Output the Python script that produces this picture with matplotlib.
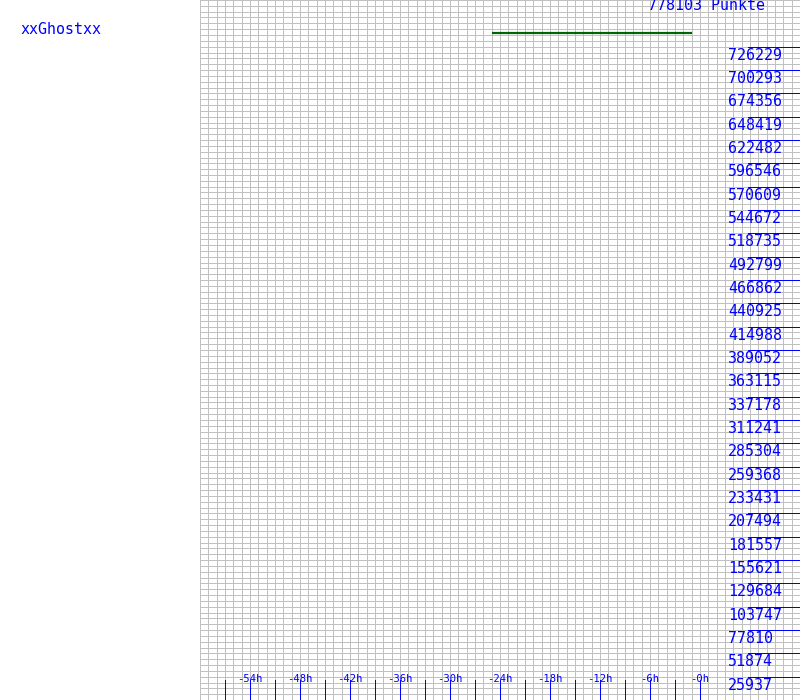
import numpy as np
import matplotlib
matplotlib.use("Agg")
import matplotlib.pyplot as plt
from matplotlib.transforms import offset_copy

# player / score
player_name = "xxGhostxx"
total_points = 778103
title_text = "778103 Punkte"

# score history (hours relative to now, points)
hist_hours = [-25, -24, -23, -22, -21, -20, -19, -18, -17, -16, -15, -14, -13,
              -12, -11, -10, -9, -8, -7, -6, -5, -4, -3, -2, -1]
hist_points = [741800] * 25

# y axis labels
y_tick_values = [25937, 51874, 77810, 103747, 129684, 155621, 181557, 207494,
                 233431, 259368, 285304, 311241, 337178, 363115, 389052, 414988,
                 440925, 466862, 492799, 518735, 544672, 570609, 596546, 622482,
                 648419, 674356, 700293, 726229]

# x axis ticks / labels
x_tick_hours = list(range(-57, 1, 3))
x_label_hours = [-54, -48, -42, -36, -30, -24, -18, -12, -6, 0]
x_label_texts = ["-54h", "-48h", "-42h", "-36h", "-30h", "-24h", "-18h", "-12h", "-6h", "-0h"]

BLUE = "#0000ff"
GRID = "#c0c0c0"
px = 72 / 100  # points per pixel

plt.rcParams['font.family'] = ['DejaVu Sans Mono', 'DejaVu Sans']

fig = plt.figure(figsize=(8, 7), dpi=100)
fig.patch.set_facecolor("white")
ax = fig.add_axes([200 / 800, 0, 600 / 800, 1])
ax.set_xlim(-60, 12)
ax.set_ylim(0, total_points)

# grid: one column per hour, four rows per label step
ax.set_xticks(np.arange(-60, 13, 1))
ax.set_yticks(np.arange(0, 121) * total_points / 120)
ax.grid(True, color=GRID, linewidth=1 * px, antialiased=False)
ax.tick_params(length=0, labelbottom=False, labelleft=False)
for s in ax.spines.values():
    s.set_visible(False)

# score line
ax.plot(hist_hours, hist_points, color="#006400", linewidth=2.2 * px,
        solid_capstyle="butt", zorder=3)

# y tick marks and labels on the right
ax.hlines(y_tick_values, 548 / 600, 1, transform=ax.get_yaxis_transform(),
          colors=BLUE, linewidth=1 * px, antialiased=False, zorder=3)
lbl_tr = offset_copy(ax.get_yaxis_transform(), fig=fig, x=0, y=-13, units='dots')
for v in y_tick_values:
    ax.text(528 / 600, v, str(v), transform=lbl_tr, color=BLUE, fontsize=10.8,
            ha="left", va="baseline", zorder=4)

# x tick marks and labels
ax.vlines(x_tick_hours, 0, 20 / 700, transform=ax.get_xaxis_transform(),
          colors=BLUE, linewidth=1 * px, antialiased=False, zorder=3)
for h, t in zip(x_label_hours, x_label_texts):
    ax.text(h, 18.5 / 700, t, transform=ax.get_xaxis_transform(), color=BLUE,
            fontsize=7.6, ha="center", va="baseline", zorder=4)

# texts
fig.text(20 / 800, 1 - 29 / 700, player_name, color=BLUE, fontsize=10.8,
         ha="left", va="center")
fig.text(648 / 800, 1 - 6 / 700, title_text, color=BLUE, fontsize=10.8,
         ha="left", va="center")

fig.savefig("out.png", dpi=100, facecolor="white")
